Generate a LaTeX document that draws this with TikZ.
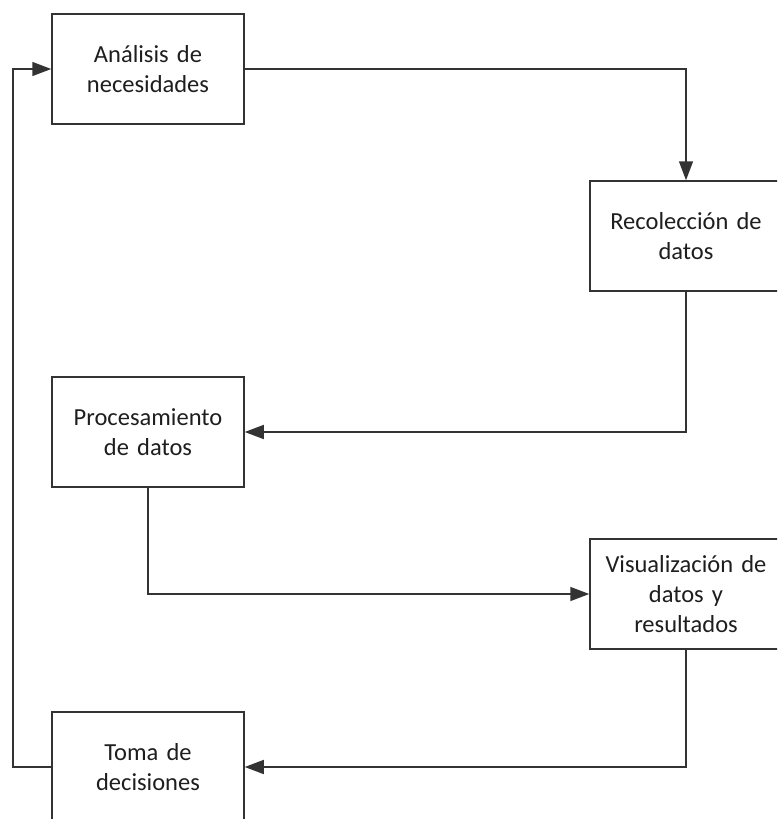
\documentclass[tikz,border=0pt]{standalone}
\usepackage{fontspec}
\setmainfont{Carlito}
\usetikzlibrary{arrows.meta}
\definecolor{linec}{HTML}{333333}
\definecolor{textc}{HTML}{1E1E1E}
\begin{document}
\begin{tikzpicture}[x=1pt,y=-1pt,
  stagebox/.style={draw=linec, line width=1.5pt, fill=white, minimum width=192pt, minimum height=110pt,
    inner sep=0pt, align=center, text width=188pt, text=textc,
    font=\fontsize{24.5}{30}\selectfont},
  flow/.style={draw=linec, line width=1.5pt, -{Triangle[length=19pt,width=14pt]}}]
\useasboundingbox (0,0) rectangle (777,819);
\clip (0,0) rectangle (777,819);
\fill[white] (0,0) rectangle (777,819);
\node[stagebox] (A) at (148,69) {Análisis de\\necesidades};
\node[stagebox] (R) at (686,236) {Recolección de\\datos};
\node[stagebox] (P) at (148,432) {Procesamiento\\de datos};
\node[stagebox] (V) at (686,594) {Visualización de\\datos y\\resultados};
\node[stagebox] (T) at (148,767) {Toma de\\decisiones};
\coordinate (c1) at (13,767);
\coordinate (c2) at (13,69);
\draw[flow] (A.east) -| (R.north);
\draw[flow] (R.south) |- (P.east);
\draw[flow] (P.south) |- (V.west);
\draw[flow] (V.south) |- (T.east);
\draw[flow] (T.west) -- (c1) -- (c2) -- (A.west);
\end{tikzpicture}
\end{document}
